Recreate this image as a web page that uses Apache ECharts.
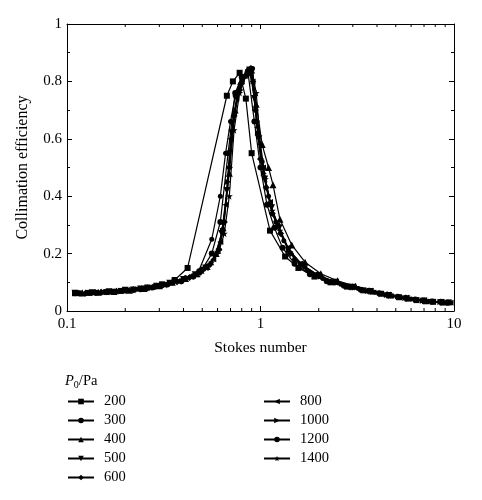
<!DOCTYPE html>
<html lang="en" style="height: 100%">
<head>
    <meta charset="UTF-8">
    <title>Collimation efficiency</title>
    <script src="https://cdn.jsdelivr.net/npm/echarts@6/dist/echarts.min.js"></script>
</head>
<body style="height: 100%; margin: 0; background: #fff">
<div id="container" style="width: 482px; height: 500px"></div>
<script type="text/javascript">
    // P0 / Pa series, Stokes number vs collimation efficiency
    var s200x = [0.11, 0.13, 0.16, 0.19, 0.22, 0.26, 0.31, 0.36, 0.42, 0.67, 0.72, 0.78, 0.84, 0.90, 1.12, 1.34, 1.57, 1.9, 2.3, 2.8, 3.4, 4.2, 5.2, 6.4, 7.8, 9.4];
    var s200y = [0.062, 0.063, 0.066, 0.070, 0.075, 0.082, 0.093, 0.108, 0.150, 0.75, 0.80, 0.83, 0.74, 0.55, 0.28, 0.19, 0.15, 0.12, 0.10, 0.085, 0.072, 0.060, 0.048, 0.038, 0.032, 0.030];

    var s300x = [0.115, 0.14, 0.17, 0.2, 0.24, 0.28, 0.33, 0.39, 0.45, 0.5, 0.56, 0.62, 0.68, 0.74, 0.8, 0.86, 0.93, 1.0, 1.08, 1.18, 1.3, 1.5, 1.8, 2.2, 2.7, 3.3, 4.1, 5.1, 6.3, 7.7, 9.3];
    var s300y = [0.062, 0.064, 0.067, 0.071, 0.076, 0.083, 0.092, 0.104, 0.12, 0.145, 0.2, 0.31, 0.55, 0.76, 0.815, 0.835, 0.66, 0.5, 0.37, 0.29, 0.22, 0.165, 0.128, 0.104, 0.088, 0.074, 0.062, 0.05, 0.04, 0.033, 0.029];

    var s400x = [0.12, 0.145, 0.175, 0.21, 0.25, 0.3, 0.35, 0.41, 0.47, 0.53, 0.59, 0.64, 0.69, 0.74, 0.79, 0.85, 0.9, 0.95, 1.02, 1.1, 1.16, 1.26, 1.45, 1.7, 2.05, 2.5, 3.1, 3.8, 4.7, 5.8, 7.2, 8.8];
    var s400y = [0.063, 0.065, 0.068, 0.072, 0.078, 0.088, 0.1, 0.113, 0.13, 0.155, 0.2, 0.29, 0.48, 0.7, 0.8, 0.835, 0.84, 0.72, 0.58, 0.5, 0.44, 0.32, 0.23, 0.17, 0.13, 0.105, 0.086, 0.07, 0.056, 0.045, 0.036, 0.031];

    var s500x = [0.11, 0.135, 0.165, 0.2, 0.24, 0.29, 0.34, 0.4, 0.46, 0.52, 0.58, 0.63, 0.67, 0.71, 0.76, 0.82, 0.88, 0.93, 0.98, 1.05, 1.14, 1.25, 1.4, 1.65, 2.0, 2.45, 3.0, 3.7, 4.6, 5.7, 7.0, 8.6];
    var s500y = [0.062, 0.064, 0.067, 0.072, 0.077, 0.086, 0.097, 0.11, 0.126, 0.15, 0.19, 0.27, 0.42, 0.62, 0.75, 0.81, 0.84, 0.74, 0.6, 0.46, 0.36, 0.29, 0.215, 0.16, 0.124, 0.1, 0.083, 0.068, 0.054, 0.043, 0.035, 0.03];

    var s600x = [0.125, 0.15, 0.18, 0.22, 0.26, 0.31, 0.37, 0.43, 0.49, 0.55, 0.61, 0.65, 0.69, 0.73, 0.78, 0.84, 0.89, 0.94, 1.0, 1.07, 1.15, 1.27, 1.43, 1.68, 2.0, 2.4, 2.9, 3.6, 4.5, 5.6, 6.9, 8.5];
    var s600y = [0.063, 0.065, 0.069, 0.074, 0.08, 0.09, 0.102, 0.117, 0.135, 0.163, 0.215, 0.31, 0.5, 0.68, 0.77, 0.82, 0.845, 0.7, 0.53, 0.43, 0.34, 0.27, 0.2, 0.155, 0.122, 0.1, 0.084, 0.07, 0.056, 0.045, 0.036, 0.031];

    var s800x = [0.115, 0.14, 0.17, 0.205, 0.245, 0.29, 0.34, 0.4, 0.46, 0.52, 0.57, 0.62, 0.66, 0.7, 0.75, 0.8, 0.86, 0.91, 0.96, 1.03, 1.12, 1.22, 1.38, 1.6, 1.95, 2.35, 2.9, 3.55, 4.4, 5.5, 6.8, 8.4, 9.6];
    var s800y = [0.062, 0.064, 0.068, 0.072, 0.078, 0.087, 0.098, 0.112, 0.127, 0.15, 0.18, 0.24, 0.37, 0.6, 0.74, 0.8, 0.835, 0.8, 0.64, 0.5, 0.38, 0.3, 0.22, 0.165, 0.126, 0.102, 0.085, 0.071, 0.058, 0.046, 0.037, 0.031, 0.029];

    var s1000x = [0.12, 0.145, 0.175, 0.21, 0.25, 0.3, 0.36, 0.42, 0.48, 0.54, 0.6, 0.64, 0.68, 0.72, 0.77, 0.83, 0.88, 0.92, 0.97, 1.04, 1.12, 1.23, 1.4, 1.62, 1.95, 2.4, 2.95, 3.6, 4.5, 5.6, 6.9, 8.5];
    var s1000y = [0.063, 0.065, 0.068, 0.073, 0.079, 0.088, 0.1, 0.114, 0.13, 0.155, 0.2, 0.28, 0.45, 0.66, 0.76, 0.815, 0.84, 0.8, 0.62, 0.48, 0.37, 0.29, 0.21, 0.16, 0.125, 0.101, 0.084, 0.07, 0.056, 0.045, 0.036, 0.031];

    var s1200x = [0.11, 0.13, 0.155, 0.19, 0.23, 0.28, 0.34, 0.41, 0.48, 0.56, 0.62, 0.66, 0.7, 0.74, 0.8, 0.86, 0.91, 0.96, 1.02, 1.1, 1.2, 1.32, 1.5, 1.75, 2.1, 2.6, 3.2, 3.9, 4.8, 6.0, 7.4, 9.0];
    var s1200y = [0.062, 0.063, 0.066, 0.07, 0.076, 0.085, 0.098, 0.116, 0.14, 0.25, 0.4, 0.55, 0.66, 0.75, 0.81, 0.835, 0.845, 0.66, 0.52, 0.4, 0.31, 0.245, 0.18, 0.14, 0.113, 0.093, 0.078, 0.065, 0.053, 0.042, 0.034, 0.03];

    var s1400x = [0.12, 0.15, 0.18, 0.22, 0.27, 0.32, 0.38, 0.44, 0.5, 0.56, 0.61, 0.65, 0.69, 0.73, 0.78, 0.84, 0.9, 0.95, 1.0, 1.06, 1.15, 1.26, 1.42, 1.66, 2.0, 2.45, 3.0, 3.7, 4.6, 5.7, 7.0, 8.6];
    var s1400y = [0.063, 0.066, 0.069, 0.074, 0.081, 0.091, 0.104, 0.12, 0.14, 0.17, 0.21, 0.27, 0.4, 0.63, 0.76, 0.82, 0.845, 0.76, 0.58, 0.46, 0.35, 0.28, 0.205, 0.158, 0.124, 0.1, 0.083, 0.069, 0.055, 0.044, 0.036, 0.031];

    var minorTicksX = [0.2, 0.3, 0.4, 0.5, 0.6, 0.7, 0.8, 0.9, 2, 3, 4, 5, 6, 7, 8, 9];
    var legendLeft = ['200', '300', '400', '500', '600'];
    var legendRight = ['800', '1000', '1200', '1400'];

    var FONT = '"Liberation Serif", "DejaVu Serif", serif';

    function pairs(xs, ys) {
        var out = [];
        for (var i = 0; i < xs.length; i++) {
            out.push([xs[i], ys[i]]);
        }
        return out;
    }

    function line(name, xs, ys, symbol, size) {
        return {
            name: name,
            type: 'line',
            data: pairs(xs, ys),
            symbol: symbol,
            symbolSize: size,
            showSymbol: true,
            itemStyle: {color: '#000'},
            lineStyle: {color: '#000', width: 1.2},
            animation: false,
            z: 3
        };
    }

    window.onload = function () {
        var dom = document.getElementById('container');
        var myChart = echarts.init(dom);

        var tickStyle = {color: '#000', width: 1};
        var xAxisBase = {
            type: 'log',
            logBase: 10,
            min: 0.1,
            max: 10,
            axisLine: {show: true, onZero: false, lineStyle: {color: '#000', width: 1}},
            axisTick: {show: true, inside: true, length: 5, lineStyle: tickStyle},
            splitLine: {show: false}
        };
        var yAxisBase = {
            type: 'value',
            min: 0,
            max: 1,
            interval: 0.2,
            axisLine: {show: true, lineStyle: {color: '#000', width: 1}},
            axisTick: {show: true, inside: true, length: 5, lineStyle: tickStyle},
            minorTick: {show: true, splitNumber: 2, length: 3, lineStyle: tickStyle},
            splitLine: {show: false}
        };

        var series = [
            line('200', s200x, s200y, 'rect', 6),
            line('300', s300x, s300y, 'circle', 6),
            line('400', s400x, s400y, 'triangle', 7),
            line('500', s500x, s500y, 'path://M0,0L10,0L5,9Z', 7),
            line('600', s600x, s600y, 'diamond', 7),
            line('800', s800x, s800y, 'path://M9,0L9,10L0,5Z', 6),
            line('1000', s1000x, s1000y, 'path://M0,0L9,5L0,10Z', 6),
            line('1200', s1200x, s1200y, 'circle', 5),
            line('1400', s1400x, s1400y, 'path://M5,0L6.2,3.6L10,3.6L7,5.9L8.1,9.5L5,7.3L1.9,9.5L3,5.9L0,3.6L3.8,3.6Z', 7),
            {
                // minor log ticks on top and bottom frame
                type: 'custom',
                data: minorTicksX,
                silent: true,
                animation: false,
                renderItem: function (params, api) {
                    var b = api.coord([api.value(0), 0]);
                    var t = api.coord([api.value(0), 1]);
                    return {
                        type: 'group',
                        children: [
                            {type: 'line', shape: {x1: b[0], y1: b[1], x2: b[0], y2: b[1] - 3}, style: {stroke: '#000', lineWidth: 1}},
                            {type: 'line', shape: {x1: t[0], y1: t[1], x2: t[0], y2: t[1] + 3}, style: {stroke: '#000', lineWidth: 1}}
                        ]
                    };
                }
            }
        ];

        var legendText = {color: '#000', fontFamily: FONT, fontSize: 14.5, padding: [0, 0, 0, 5]};

        var option = {
            backgroundColor: '#fff',
            animation: false,
            grid: {left: 67, right: 28, top: 24, bottom: 189},
            xAxis: [
                Object.assign({}, xAxisBase, {
                    position: 'bottom',
                    name: 'Stokes number',
                    nameLocation: 'middle',
                    nameGap: 29,
                    nameTextStyle: {color: '#000', fontFamily: FONT, fontSize: 15.5},
                    axisLabel: {color: '#000', fontFamily: FONT, fontSize: 15, margin: 6}
                }),
                Object.assign({}, xAxisBase, {
                    position: 'top',
                    axisLabel: {show: false}
                })
            ],
            yAxis: [
                Object.assign({}, yAxisBase, {
                    position: 'left',
                    name: 'Collimation efficiency',
                    nameLocation: 'middle',
                    nameGap: 36,
                    nameTextStyle: {color: '#000', fontFamily: FONT, fontSize: 16},
                    axisLabel: {color: '#000', fontFamily: FONT, fontSize: 15, margin: 5}
                }),
                Object.assign({}, yAxisBase, {
                    position: 'right',
                    axisLabel: {show: false}
                })
            ],
            legend: [
                {
                    data: legendLeft,
                    orient: 'vertical',
                    left: 62,
                    top: 389,
                    height: 108,
                    itemWidth: 26,
                    itemHeight: 7,
                    itemGap: 4,
                    textStyle: legendText,
                    selectedMode: false
                },
                {
                    data: legendRight,
                    orient: 'vertical',
                    left: 258,
                    top: 389,
                    height: 108,
                    itemWidth: 26,
                    itemHeight: 7,
                    itemGap: 4,
                    textStyle: legendText,
                    selectedMode: false
                }
            ],
            graphic: [
                {
                    type: 'text',
                    left: 65,
                    top: 374,
                    style: {
                        text: '{p|P}{s|0}{n|/Pa}',
                        fill: '#000',
                        rich: {
                            p: {fontFamily: FONT, fontSize: 14.5, fontStyle: 'italic', fill: '#000'},
                            s: {fontFamily: FONT, fontSize: 10, fill: '#000', padding: [8, 0, 0, 0]},
                            n: {fontFamily: FONT, fontSize: 14.5, fill: '#000'}
                        }
                    }
                }
            ],
            series: series
        };

        myChart.setOption(option);
    };
</script>
</body>
</html>
